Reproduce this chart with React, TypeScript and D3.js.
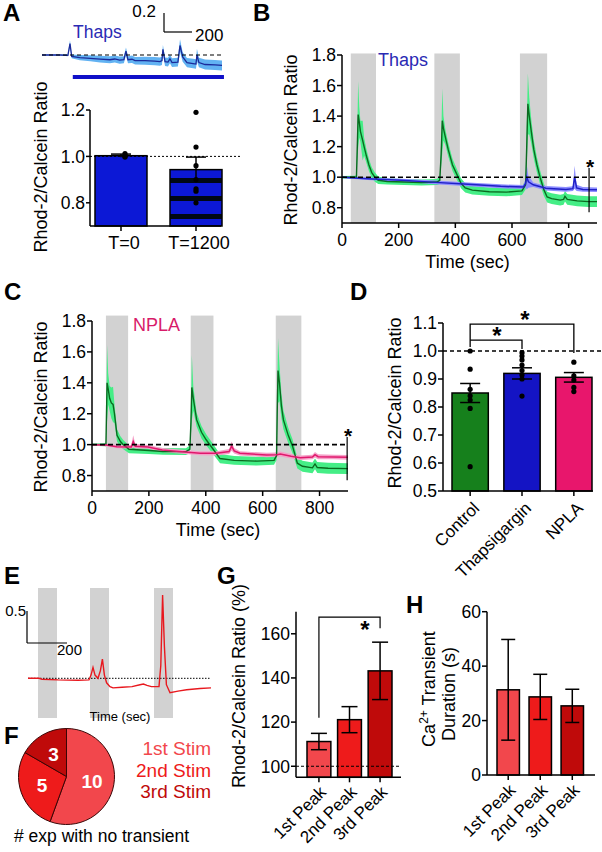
import React from "react";
import * as d3 from "d3";

const FONT = "'Liberation Sans', Arial, Helvetica, sans-serif";

// ---------------- Panel A ----------------
// [time (s), mean ratio, sem]
const aTrace: number[][] = [
  [0, 1.0, 0.004], [130, 1.0, 0.006], [185, 0.997, 0.01], [200, 1.12, 0.035], [212, 0.985, 0.02],
  [270, 0.972, 0.028], [345, 0.965, 0.032], [415, 0.957, 0.035], [485, 0.95, 0.037], [520, 0.958, 0.038],
  [555, 0.946, 0.038], [585, 0.95, 0.038], [600, 1.04, 0.04], [614, 0.95, 0.038], [643, 0.955, 0.04],
  [665, 0.94, 0.04], [735, 0.94, 0.042], [805, 0.935, 0.043], [843, 0.93, 0.044], [857, 0.94, 0.044],
  [864, 1.06, 0.045], [879, 0.93, 0.045], [900, 0.925, 0.046], [914, 0.96, 0.046], [929, 0.92, 0.046],
  [971, 0.925, 0.047], [986, 1.1, 0.065], [1005, 0.98, 0.05], [1036, 0.92, 0.048], [1079, 0.91, 0.05],
  [1100, 0.905, 0.05], [1107, 1.0, 0.065], [1121, 0.92, 0.05], [1165, 0.9, 0.052], [1236, 0.895, 0.052],
  [1286, 0.89, 0.052],
];
const aDrugSpan = [220, 1300];
const aBarCats = ["T=0", "T=1200"];
const aBarMeans = [1.003, 0.943];
const aBarSems = [0.007, 0.054];
const aPoints = [
  [1.012, 1.006, 1.0, 0.997],
  [1.19, 1.04, 0.96, 0.9, 0.86, 0.8, 0.85],
];
const aYTicks = [0.8, 1.0, 1.2];

// ---------------- Panels B & C ----------------
const bControl: number[][] = [
  [0, 1.0, 0.008], [45, 1.0, 0.01], [51, 1.0, 0.012], [54, 1.2, 0.1], [57, 1.41, 0.22], [61, 1.36, 0.1],
  [65, 1.3, 0.07], [69, 1.27, 0.1], [73, 1.24, 0.13], [78, 1.2, 0.06], [86, 1.14, 0.045], [95, 1.08, 0.04],
  [105, 1.03, 0.035], [116, 1.0, 0.03], [128, 0.98, 0.025], [160, 0.972, 0.02], [220, 0.968, 0.02],
  [280, 0.965, 0.02], [335, 0.968, 0.02], [345, 0.98, 0.025], [350, 1.15, 0.08], [354, 1.37, 0.21],
  [358, 1.32, 0.08], [365, 1.26, 0.05], [375, 1.18, 0.045], [390, 1.08, 0.04], [405, 1.02, 0.035],
  [420, 0.96, 0.033], [435, 0.93, 0.03], [460, 0.915, 0.028], [520, 0.905, 0.027], [580, 0.902, 0.027],
  [635, 0.91, 0.027], [648, 0.95, 0.03], [652, 1.2, 0.12], [656, 1.48, 0.2], [661, 1.4, 0.12],
  [668, 1.3, 0.08], [677, 1.18, 0.06], [688, 1.08, 0.05], [699, 1.0, 0.045], [712, 0.92, 0.04],
  [724, 0.87, 0.035], [740, 0.86, 0.035], [770, 0.85, 0.035], [782, 0.855, 0.035], [787, 0.875, 0.035],
  [795, 0.855, 0.035], [830, 0.845, 0.035], [870, 0.84, 0.035], [900, 0.84, 0.035],
];
const bThaps: number[][] = [
  [0, 1.0, 0.005], [90, 0.99, 0.008], [210, 0.98, 0.01], [330, 0.966, 0.012], [445, 0.953, 0.012],
  [560, 0.94, 0.013], [640, 0.935, 0.013], [648, 0.96, 0.03], [652, 1.0, 0.08], [658, 0.97, 0.04],
  [675, 0.95, 0.015], [720, 0.927, 0.015], [790, 0.92, 0.015], [815, 0.925, 0.015], [821, 1.0, 0.075],
  [828, 0.93, 0.02], [850, 0.92, 0.015], [900, 0.918, 0.015],
];
const cControl: number[][] = [
  [0, 1.0, 0.008], [45, 1.0, 0.01], [49, 1.0, 0.012], [51, 1.2, 0.1], [53, 1.4, 0.245], [57, 1.36, 0.1],
  [62, 1.3, 0.08], [68, 1.27, 0.1], [74, 1.26, 0.115], [79, 1.2, 0.06], [88, 1.06, 0.04], [100, 1.02, 0.035],
  [110, 1.0, 0.03], [130, 0.97, 0.025], [200, 0.962, 0.022], [250, 0.956, 0.022], [330, 0.955, 0.022],
  [344, 0.97, 0.025], [348, 1.15, 0.08], [351, 1.37, 0.21], [356, 1.3, 0.08], [368, 1.16, 0.045],
  [385, 1.08, 0.04], [402, 1.03, 0.035], [426, 0.97, 0.033], [450, 0.91, 0.03], [500, 0.898, 0.028],
  [580, 0.893, 0.028], [640, 0.898, 0.028], [649, 0.93, 0.03], [651, 1.2, 0.12], [654, 1.48, 0.21],
  [659, 1.4, 0.12], [666, 1.25, 0.08], [673, 1.16, 0.06], [690, 1.06, 0.05], [705, 0.99, 0.045],
  [722, 0.88, 0.035], [740, 0.86, 0.035], [775, 0.85, 0.035], [784, 0.875, 0.035], [792, 0.852, 0.035],
  [830, 0.847, 0.035], [900, 0.845, 0.035],
];
const cNpla: number[][] = [
  [0, 1.0, 0.006], [50, 0.997, 0.008], [87, 0.987, 0.01], [138, 0.985, 0.012], [145, 1.02, 0.04],
  [152, 0.99, 0.015], [197, 0.985, 0.012], [247, 0.966, 0.013], [306, 0.955, 0.013], [380, 0.944, 0.013],
  [438, 0.944, 0.014], [482, 0.955, 0.016], [491, 0.99, 0.03], [500, 0.96, 0.018], [520, 0.944, 0.014],
  [614, 0.933, 0.014], [650, 0.935, 0.014], [662, 0.94, 0.016], [700, 0.925, 0.015], [732, 0.915, 0.015],
  [775, 0.92, 0.015], [784, 0.935, 0.018], [795, 0.922, 0.016], [850, 0.92, 0.015], [900, 0.918, 0.015],
];
const bStims = [[31, 120], [326, 416], [628, 724]];
const cStims = [[49, 127], [347, 427], [646, 736]];
const traceYTicks = [0.8, 1.0, 1.2, 1.4, 1.6, 1.8];
const traceXTicks = [0, 200, 400, 600, 800];

// ---------------- Panel D ----------------
const dCats = ["Control", "Thapsigargin", "NPLA"];
const dMeans = [0.85, 0.92, 0.906];
const dSems = [0.034, 0.02, 0.017];
const dPoints = [
  [1.0, 0.935, 0.863, 0.84, 0.825, 0.795, 0.587],
  [0.994, 0.982, 0.968, 0.95, 0.93, 0.914, 0.9, 0.839],
  [0.96, 0.911, 0.896, 0.87, 0.855],
];
const dYTicks = [0.5, 0.6, 0.7, 0.8, 0.9, 1.0, 1.1];

// ---------------- Panel E ----------------
const eTrace: number[][] = [
  [0, 1.0], [55, 1.0], [70, 0.985], [150, 0.975], [250, 0.97], [305, 0.975], [315, 1.05], [325, 1.17],
  [335, 1.05], [350, 1.0], [362, 1.12], [372, 1.3], [382, 1.05], [393, 0.93], [410, 0.87], [425, 0.85],
  [470, 0.86], [520, 0.87], [560, 0.9], [577, 0.91], [595, 0.89], [617, 0.87], [655, 0.87], [664, 1.2],
  [673, 2.3], [682, 1.5], [692, 0.9], [710, 0.775], [750, 0.8], [793, 0.82], [860, 0.84], [915, 0.85],
];
const eStims = [[50, 145], [310, 405], [630, 725]];

// ---------------- Panel F ----------------
const fLabels = ["1st Stim", "2nd Stim", "3rd Stim"];
const fCounts = [10, 5, 3];

// ---------------- Panels G & H ----------------
const peakCats = ["1st Peak", "2nd Peak", "3rd Peak"];
const peakColors = ["#f2474c", "#ee1b1b", "#bf0a0a"];
const gMeans = [111.2, 121.1, 143.2];
const gSems = [3.7, 5.9, 13.0];
const gYTicks = [100, 120, 140, 160];
const hMeans = [31.3, 28.7, 25.4];
const hSems = [18.5, 8.3, 6.1];
const hYTicks = [0, 20, 40, 60];

const K = "#000";

function YAxis({ scale, x, ticks, fmt, size = 17.5, len = 5 }: any) {
  const r = scale.range();
  return (
    <g>
      <line x1={x} x2={x} y1={r[0]} y2={r[1]} stroke={K} strokeWidth={1.5} />
      {ticks.map((t: number) => (
        <g key={t}>
          <line x1={x - len} x2={x} y1={scale(t)} y2={scale(t)} stroke={K} strokeWidth={1.5} />
          <text x={x - len - 1} y={scale(t)} dy="0.36em" textAnchor="end" fontSize={size}>
            {fmt(t)}
          </text>
        </g>
      ))}
    </g>
  );
}

function Star({ x, y, size = 22 }: any) {
  return (
    <text x={x} y={y + size * 0.6} textAnchor="middle" fontSize={size} fontWeight="bold">
      *
    </text>
  );
}

function TracePanel({ xs, ys, stims, stimTop, control, treat, tColor, tBand, label, labelColor, labelPos, starT, starRange, title, titleX }: any) {
  const area = d3.area<number[]>().x((d) => xs(d[0])).y0((d) => ys(d[1] - d[2])).y1((d) => ys(d[1] + d[2]));
  const line = d3.line<number[]>().x((d) => xs(d[0])).y((d) => ys(d[1]));
  const [x0, x1] = xs.range();
  const y0 = ys.range()[0];
  const y1 = ys.range()[1];
  return (
    <g>
      {stims.map((s: number[], i: number) => (
        <rect key={i} x={xs(s[0])} width={xs(s[1]) - xs(s[0])} y={ys(stimTop)} height={y0 - ys(stimTop)} fill="#d2d2d2" />
      ))}
      <path d={area(control) || ""} fill="#45ee86" />
      <path d={area(treat) || ""} fill={tBand} />
      <path d={line(control) || ""} fill="none" stroke="#0b6a20" strokeWidth={1.4} />
      <path d={line(treat) || ""} fill="none" stroke={tColor} strokeWidth={1.5} />
      <line x1={x0} x2={x1} y1={ys(1)} y2={ys(1)} stroke={K} strokeWidth={1.6} strokeDasharray="5,3" />
      <line x1={xs(starT)} x2={xs(starT)} y1={ys(starRange[0])} y2={ys(starRange[1])} stroke={K} strokeWidth={1.2} />
      <Star x={xs(starT) + 1} y={ys(starRange[0]) - 7} size={21} />
      <YAxis scale={ys} x={x0} ticks={traceYTicks} fmt={d3.format(".1f")} />
      <line x1={x0} x2={x1} y1={y0} y2={y0} stroke={K} strokeWidth={1.5} />
      {traceXTicks.map((t) => (
        <g key={t}>
          <line x1={xs(t)} x2={xs(t)} y1={y0} y2={y0 + 5} stroke={K} strokeWidth={1.5} />
          <text x={xs(t)} y={y0 + 23} textAnchor="middle" fontSize={17.5}>{t}</text>
        </g>
      ))}
      <text x={(x0 + x1) / 2 - 2} y={y0 + 45} textAnchor="middle" fontSize={18}>Time (sec)</text>
      <text x={labelPos[0]} y={labelPos[1]} fontSize={18} fill={labelColor}>{label}</text>
      <text transform={`translate(${titleX},${(y0 + y1) / 2 + 1}) rotate(-90)`} dy="0.35em" textAnchor="middle" fontSize={18}>
        {title}
      </text>
    </g>
  );
}

function PanelLabel({ x, y, t }: any) {
  return (
    <text x={x} y={y} fontSize={24} fontWeight="bold">{t}</text>
  );
}

export default function App() {
  // ---- A trace
  const aX = d3.scaleLinear().domain([0, 1286]).range([42, 222]);
  const aY = d3.scaleLinear().domain([1.0, 1.2]).range([55, 36]);
  const aArea = d3.area<number[]>().x((d) => aX(d[0])).y0((d) => aY(d[1] - d[2])).y1((d) => aY(d[1] + d[2]));
  const aLine = d3.line<number[]>().x((d) => aX(d[0])).y((d) => aY(d[1]));
  // ---- A bars
  const aBY = d3.scaleLinear().domain([0.7, 1.2]).range([226, 110]);
  const aBX = d3.scaleBand<string>().domain(aBarCats).range([95, 222]).paddingInner(0.307).paddingOuter(0);
  const aBarColor = "#0c18d6";

  // ---- B, C
  const bX = d3.scaleLinear().domain([0, 900]).range([342, 597]);
  const bY = d3.scaleLinear().domain([0.7, 1.8]).range([223, 55]);
  const cX = d3.scaleLinear().domain([0, 900]).range([92, 348]);
  const cY = d3.scaleLinear().domain([0.7, 1.8]).range([491, 321]);

  // ---- D
  const dY = d3.scaleLinear().domain([0.5, 1.1]).range([491, 323]);
  const dX = d3.scaleBand<string>().domain(dCats).range([452, 592]).paddingInner(0.3).paddingOuter(0);
  const dColors = ["#16801c", "#1414c4", "#e8166c"];

  // ---- E
  const eX = d3.scaleLinear().domain([0, 915]).range([28, 211]);
  const eY = d3.scaleLinear().domain([1.0, 1.5]).range([678.3, 646.3]);
  const eLine = d3.line<number[]>().x((d) => eX(d[0])).y((d) => eY(d[1]));

  // ---- F
  const pie = d3.pie<number>().sort(null).startAngle(0).endAngle(2 * Math.PI)(fCounts);
  const arc = d3.arc<any>().innerRadius(0).outerRadius(48);
  const arcLbl = d3.arc<any>().innerRadius(26).outerRadius(26);

  // ---- G
  const gY = d3.scaleLinear().domain([95, 170]).range([777.3, 611.7]);
  const gX = d3.scaleBand<string>().domain(peakCats).range([307, 392]).paddingInner(0.22).paddingOuter(0);
  // ---- H
  const hY = d3.scaleLinear().domain([0, 60]).range([775, 611.7]);
  const hX = d3.scaleBand<string>().domain(peakCats).range([497, 583.5]).paddingInner(0.3).paddingOuter(0);

  const cx = (s: any, c: string) => s(c) + s.bandwidth() / 2;

  // simple deterministic spread for overlapping points
  const spread = (vals: number[], thr: number, step: number) => {
    const out: number[] = [];
    vals.forEach((v, i) => {
      let n = 0;
      for (let j = 0; j < i; j++) if (Math.abs(vals[j] - v) < thr) n++;
      out.push(n === 0 ? 0 : (n % 2 ? 1 : -1) * Math.ceil(n / 2) * step);
    });
    return out;
  };

  return (
    <svg width={602} height={852} style={{ position: "absolute", left: 0, top: 0, background: "#fff" }} fontFamily={FONT}>
      <defs>
        <pattern id="stripes" patternUnits="userSpaceOnUse" x={0} y={173} width={10} height={18}>
          <rect x={0} y={0} width={10} height={18} fill={aBarColor} />
          <rect x={0} y={5} width={10} height={5} fill="#000814" />
        </pattern>
      </defs>

      {/* ================= A ================= */}
      <PanelLabel x={3} y={21} t="A" />
      <path d={aArea(aTrace) || ""} fill="#62b2f2" />
      <path d={aLine(aTrace) || ""} fill="none" stroke="#1b2a9a" strokeWidth={1.3} />
      <line x1={aX(0)} x2={aX(1286) + 1} y1={aY(1)} y2={aY(1)} stroke={K} strokeWidth={1.2} strokeDasharray="4,3" />
      <line x1={aX(aDrugSpan[0])} x2={aX(aDrugSpan[1])} y1={77} y2={77} stroke="#1010c8" strokeWidth={4} />
      <text x={73} y={38} fontSize={17.5} fill="#2a2ab4">Thaps</text>
      {/* scale bar */}
      <line x1={164} x2={164} y1={aY(1.2) - 23} y2={aY(1.0) - 23} stroke={K} strokeWidth={1.2} />
      <line x1={164} x2={164 + aX(200) - aX(0)} y1={aY(1.0) - 23} y2={aY(1.0) - 23} stroke={K} strokeWidth={1.2} />
      <text x={156} y={17} textAnchor="end" fontSize={17}>0.2</text>
      <text x={195} y={41} fontSize={17}>200</text>

      {/* A bars */}
      {aBarCats.map((c, i) => (
        <rect key={c} x={aBX(c)} width={aBX.bandwidth()} y={aBY(aBarMeans[i])} height={aBY(0.7) - aBY(aBarMeans[i])}
          fill={i === 0 ? aBarColor : "url(#stripes)"} stroke={K} strokeWidth={1.5} />
      ))}
      <line x1={90} x2={240} y1={aBY(1)} y2={aBY(1)} stroke={K} strokeWidth={1} strokeDasharray="2,2" />
      {aBarCats.map((c, i) => {
        const x = cx(aBX, c);
        return (
          <g key={c}>
            <line x1={x} x2={x} y1={aBY(aBarMeans[i] - aBarSems[i])} y2={aBY(aBarMeans[i] + aBarSems[i])} stroke={K} strokeWidth={1.5} />
            <line x1={x - 10} x2={x + 10} y1={aBY(aBarMeans[i] + aBarSems[i])} y2={aBY(aBarMeans[i] + aBarSems[i])} stroke={K} strokeWidth={1.5} />
            {aPoints[i].map((v, j) => (
              <circle key={j} cx={x + (i === 0 ? 4 : 0)} cy={aBY(v)} r={2.6} fill={K} />
            ))}
            <line x1={x} x2={x} y1={aBY(0.7)} y2={aBY(0.7) + 5} stroke={K} strokeWidth={1.5} />
            <text x={x + 3} y={249} textAnchor="middle" fontSize={18}>{c}</text>
          </g>
        );
      })}
      <YAxis scale={aBY} x={90} ticks={aYTicks} fmt={d3.format(".1f")} len={4} />
      <line x1={90} x2={221} y1={aBY(0.7)} y2={aBY(0.7)} stroke={K} strokeWidth={1.5} />
      <text transform="translate(41,167) rotate(-90)" dy="0.35em" textAnchor="middle" fontSize={18}>Rhod-2/Calcein Ratio</text>

      {/* ================= B ================= */}
      <PanelLabel x={253} y={21} t="B" />
      <TracePanel xs={bX} ys={bY} stims={bStims} stimTop={1.81} control={bControl} treat={bThaps}
        tColor="#2020c6" tBand="#8d8dff" label="Thaps" labelColor="#2a2ab4" labelPos={[378, 66]}
        starT={872} starRange={[1.06, 0.77]} title="Rhod-2/Calcein Ratio" titleX={291} />

      {/* ================= C ================= */}
      <PanelLabel x={4} y={300} t="C" />
      <TracePanel xs={cX} ys={cY} stims={cStims} stimTop={1.835} control={cControl} treat={cNpla}
        tColor="#e0186c" tBand="#f5a0c8" label="NPLA" labelColor="#d81b6a" labelPos={[133, 331]}
        starT={897} starRange={[1.05, 0.77]} title="Rhod-2/Calcein Ratio" titleX={41} />

      {/* ================= D ================= */}
      <PanelLabel x={350} y={300} t="D" />
      {dCats.map((c, i) => (
        <rect key={c} x={dX(c)} width={dX.bandwidth()} y={dY(dMeans[i])} height={dY(0.5) - dY(dMeans[i])}
          fill={dColors[i]} stroke={K} strokeWidth={1.5} />
      ))}
      <line x1={443} x2={602} y1={dY(1)} y2={dY(1)} stroke={K} strokeWidth={1.3} strokeDasharray="4,3" />
      {dCats.map((c, i) => {
        const x = cx(dX, c);
        const offs = spread(dPoints[i], 0.012, 3);
        return (
          <g key={c}>
            <line x1={x} x2={x} y1={dY(dMeans[i] - dSems[i])} y2={dY(dMeans[i] + dSems[i])} stroke={K} strokeWidth={1.5} />
            <line x1={x - 10} x2={x + 10} y1={dY(dMeans[i] + dSems[i])} y2={dY(dMeans[i] + dSems[i])} stroke={K} strokeWidth={1.5} />
            <line x1={x - 10} x2={x + 10} y1={dY(dMeans[i] - dSems[i])} y2={dY(dMeans[i] - dSems[i])} stroke={K} strokeWidth={1.5} />
            {dPoints[i].map((v, j) => (
              <circle key={j} cx={x + offs[j]} cy={dY(v)} r={2.6} fill={K} />
            ))}
            <line x1={x} x2={x} y1={dY(0.5)} y2={dY(0.5) + 5} stroke={K} strokeWidth={1.5} />
            <text transform={`translate(${x + 6},${505}) rotate(-45)`} dy="0.35em" textAnchor="end" fontSize={17}>{c}</text>
          </g>
        );
      })}
      <YAxis scale={dY} x={443} ticks={dYTicks} fmt={d3.format(".1f")} />
      <line x1={443} x2={593} y1={dY(0.5)} y2={dY(0.5)} stroke={K} strokeWidth={1.5} />
      {/* significance */}
      {(() => {
        const c0 = cx(dX, dCats[0]);
        const c1 = cx(dX, dCats[1]);
        const c2 = cx(dX, dCats[2]);
        return (
          <g fill="none" stroke={K} strokeWidth={1.3}>
            <polyline points={`${c0},${dY(1.014)} ${c0},${dY(1.096)} ${c2},${dY(1.096)} ${c2},${dY(0.993)}`} />
            <polyline points={`${c0},${dY(1.039)} ${c1},${dY(1.039)} ${c1},${dY(1.007)}`} />
          </g>
        );
      })()}
      <Star x={525} y={314} size={24} />
      <Star x={497} y={330} size={24} />
      <text transform="translate(395,403) rotate(-90)" dy="0.35em" textAnchor="middle" fontSize={18}>Rhod-2/Calcein Ratio</text>

      {/* ================= E ================= */}
      <PanelLabel x={4} y={584} t="E" />
      {eStims.map((s, i) => (
        <rect key={i} x={eX(s[0])} width={eX(s[1]) - eX(s[0])} y={588} height={130} fill="#d2d2d2" />
      ))}
      <line x1={eX(0)} x2={eX(915)} y1={eY(1)} y2={eY(1)} stroke={K} strokeWidth={1} strokeDasharray="1.5,1.5" />
      <path d={eLine(eTrace) || ""} fill="none" stroke="#e8181e" strokeWidth={1.4} />
      <line x1={27} x2={27} y1={611} y2={611 + eY(1) - eY(1.5)} stroke={K} strokeWidth={1.2} />
      <line x1={27} x2={27 + eX(200) - eX(0)} y1={611 + eY(1) - eY(1.5)} y2={611 + eY(1) - eY(1.5)} stroke={K} strokeWidth={1.2} />
      <text x={26} y={616} textAnchor="end" fontSize={15}>0.5</text>
      <text x={57} y={655} fontSize={15}>200</text>
      <text x={120} y={721} textAnchor="middle" fontSize={13}>Time (sec)</text>

      {/* ================= F ================= */}
      <PanelLabel x={4} y={744} t="F" />
      <g transform="translate(66.5,776.5)">
        {pie.map((p, i) => (
          <path key={i} d={arc(p) || ""} fill={peakColors[i]} stroke="#3a0505" strokeWidth={1} />
        ))}
        {pie.map((p, i) => {
          const [lx, ly] = arcLbl.centroid(p);
          return (
            <text key={i} x={lx} y={ly} dy="0.36em" textAnchor="middle" fontSize={19} fontWeight="bold" fill="#fff">
              {fCounts[i]}
            </text>
          );
        })}
      </g>
      {fLabels.map((l, i) => (
        <text key={l} x={211} y={755 + i * 21.5} textAnchor="end" fontSize={19} fill={peakColors[i]}>{l}</text>
      ))}
      <text x={14} y={842} fontSize={17.5}># exp with no transient</text>

      {/* ================= G ================= */}
      <PanelLabel x={217} y={584} t="G" />
      {peakCats.map((c, i) => (
        <rect key={c} x={gX(c)} width={gX.bandwidth()} y={gY(gMeans[i])} height={gY(95) - gY(gMeans[i])}
          fill={peakColors[i]} stroke={K} strokeWidth={1.5} />
      ))}
      <line x1={296} x2={401} y1={gY(100)} y2={gY(100)} stroke={K} strokeWidth={1.2} strokeDasharray="3,2" />
      {peakCats.map((c, i) => {
        const x = cx(gX, c);
        return (
          <g key={c}>
            <line x1={x} x2={x} y1={gY(gMeans[i] - gSems[i])} y2={gY(gMeans[i] + gSems[i])} stroke={K} strokeWidth={1.5} />
            <line x1={x - 8} x2={x + 8} y1={gY(gMeans[i] + gSems[i])} y2={gY(gMeans[i] + gSems[i])} stroke={K} strokeWidth={1.5} />
            <line x1={x - 8} x2={x + 8} y1={gY(gMeans[i] - gSems[i])} y2={gY(gMeans[i] - gSems[i])} stroke={K} strokeWidth={1.5} />
            <line x1={x} x2={x} y1={gY(95)} y2={gY(95) + 5} stroke={K} strokeWidth={1.5} />
            <text transform={`translate(${x + 4},${789}) rotate(-45)`} dy="0.35em" textAnchor="end" fontSize={17}>{c}</text>
          </g>
        );
      })}
      <YAxis scale={gY} x={296} ticks={gYTicks} fmt={(d: number) => String(d)} />
      <line x1={296} x2={401} y1={gY(95)} y2={gY(95)} stroke={K} strokeWidth={1.5} />
      {(() => {
        const c0 = cx(gX, peakCats[0]);
        const c2 = cx(gX, peakCats[2]);
        return (
          <polyline points={`${c0},${gY(122)} ${c0},${gY(167.5)} ${c2},${gY(167.5)} ${c2},${gY(162.5)}`}
            fill="none" stroke={K} strokeWidth={1.2} />
        );
      })()}
      <Star x={365} y={624} size={24} />
      <text transform="translate(239,686) rotate(-90)" dy="0.35em" textAnchor="middle" fontSize={18}>Rhod-2/Calcein Ratio (%)</text>

      {/* ================= H ================= */}
      <PanelLabel x={406} y={613} t="H" />
      {peakCats.map((c, i) => (
        <rect key={c} x={hX(c)} width={hX.bandwidth()} y={hY(hMeans[i])} height={hY(0) - hY(hMeans[i])}
          fill={peakColors[i]} stroke={K} strokeWidth={1.5} />
      ))}
      {peakCats.map((c, i) => {
        const x = cx(hX, c);
        return (
          <g key={c}>
            <line x1={x} x2={x} y1={hY(hMeans[i] - hSems[i])} y2={hY(hMeans[i] + hSems[i])} stroke={K} strokeWidth={1.5} />
            <line x1={x - 7} x2={x + 7} y1={hY(hMeans[i] + hSems[i])} y2={hY(hMeans[i] + hSems[i])} stroke={K} strokeWidth={1.5} />
            <line x1={x - 7} x2={x + 7} y1={hY(hMeans[i] - hSems[i])} y2={hY(hMeans[i] - hSems[i])} stroke={K} strokeWidth={1.5} />
            <line x1={x} x2={x} y1={hY(0)} y2={hY(0) + 5} stroke={K} strokeWidth={1.5} />
            <text transform={`translate(${x + 4},${787}) rotate(-45)`} dy="0.35em" textAnchor="end" fontSize={17}>{c}</text>
          </g>
        );
      })}
      <YAxis scale={hY} x={487} ticks={hYTicks} fmt={(d: number) => String(d)} />
      <line x1={487} x2={595} y1={hY(0)} y2={hY(0)} stroke={K} strokeWidth={1.5} />
      <text transform="translate(429,689) rotate(-90)" dy="0.35em" textAnchor="middle" fontSize={18}>
        Ca<tspan dy={-7} fontSize={12}>2+</tspan><tspan dy={7} fontSize={18}> Transient</tspan>
      </text>
      <text transform="translate(448.5,694) rotate(-90)" dy="0.35em" textAnchor="middle" fontSize={18}>Duration (s)</text>
    </svg>
  );
}
